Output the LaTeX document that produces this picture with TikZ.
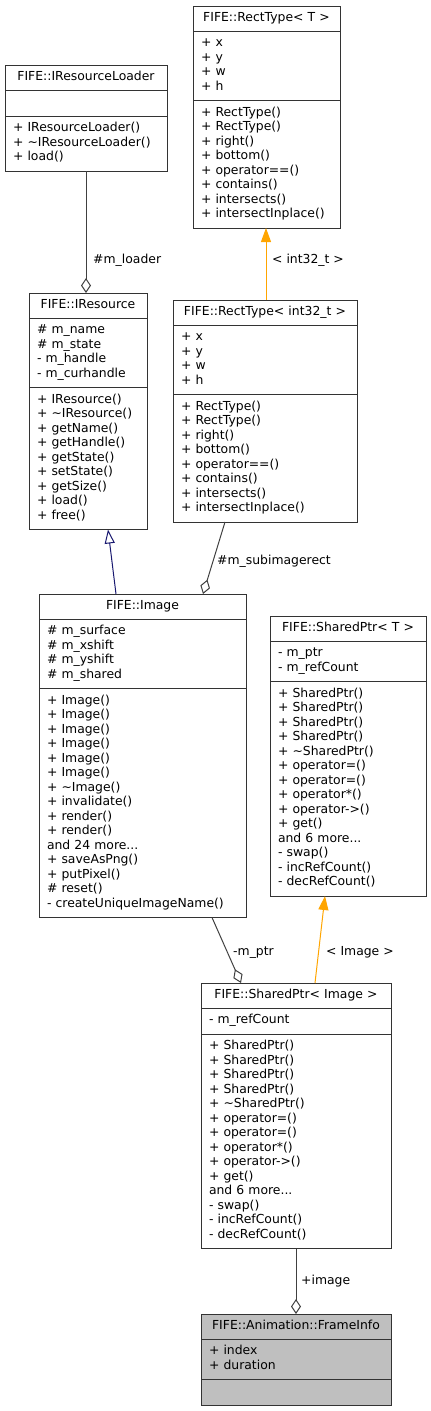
\documentclass[tikz,border=0pt]{standalone}
\usepackage{fontspec}
\setmainfont{DejaVu Sans}
\usetikzlibrary{arrows.meta,positioning}
\setlength{\parindent}{0pt}
\definecolor{edgegray}{HTML}{404040}
\definecolor{tplorange}{HTML}{FFA500}
\definecolor{inhnavy}{HTML}{191970}
\definecolor{focusgray}{HTML}{BFBFBF}
\newcommand{\umlfont}{\fontsize{12.4}{14.5}\selectfont}
% lines of one compartment, one row each
\newcommand{\rows}[1]{\begin{tabular}{@{}l@{}}#1\end{tabular}}
\tikzset{
    % one compartment of a class box
    part/.style={
        draw=black!80, line width=1pt, outer sep=0pt,
        inner xsep=8pt, inner ysep=5.75pt, font=\umlfont
    },
    hd/.style={part, align=center, text width=#1, inner ysep=5.25pt},
    mb/.style={part, align=left, text width=#1},
    focus/.style={fill=focusgray},
    % relations
    aggr/.style={draw=edgegray, line width=1pt,
        -{Diamond[fill=white, length=15pt, width=10pt]}},
    inherit/.style={draw=inhnavy, line width=1pt,
        -{Triangle[fill=white, length=14pt, width=10pt]}},
    tmpl/.style={draw=tplorange, line width=1pt,
        -{Triangle[length=14pt, width=10pt]}},
    edgelbl/.style={font=\umlfont, anchor=base west, inner sep=0pt},
}

\begin{document}
\begin{tikzpicture}[x=1pt,y=-1pt]
  \useasboundingbox (0,0) rectangle (431,1411);

  % FIFE::RectType< T >
  \node[hd=131pt, anchor=north west] (rectT) at (193,6) {\rows{FIFE::RectType< T >}};
  \node[mb=131pt, below=0pt of rectT] (rectTa) {\rows{+ x\\+ y\\+ w\\+ h}};
  \node[mb=131pt, below=0pt of rectTa] (rectTm) {\rows{+ RectType()\\+ RectType()\\+ right()\\+ bottom()\\
      + operator==()\\+ contains()\\+ intersects()\\+ intersectInplace()}};

  % FIFE::IResourceLoader
  \node[hd=146pt, anchor=north west] (loaderT) at (5,65) {\rows{FIFE::IResourceLoader}};
  \node[mb=146pt, below=0pt of loaderT] (loaderA) {\rows{\strut}};
  \node[mb=146pt, below=0pt of loaderA] (loaderM) {\rows{+ IResourceLoader()\\
      + \textasciitilde{}IResourceLoader()\\+ load()}};

  % FIFE::IResource
  \node[hd=102pt, anchor=north west] (resT) at (29,293) {\rows{FIFE::IResource}};
  \node[mb=102pt, below=0pt of resT] (resA) {\rows{\# m\_name\\\# m\_state\\- m\_handle\\- m\_curhandle}};
  \node[mb=102pt, below=0pt of resA] (resM) {\rows{+ IResource()\\+ \textasciitilde{}IResource()\\
      + getName()\\+ getHandle()\\+ getState()\\+ setState()\\+ getSize()\\+ load()\\+ free()}};

  % FIFE::RectType< int32_t >
  \node[hd=168pt, anchor=north west] (rect32T) at (173,300) {\rows{FIFE::RectType< int32\_t >}};
  \node[mb=168pt, below=0pt of rect32T] (rect32A) {\rows{+ x\\+ y\\+ w\\+ h}};
  \node[mb=168pt, below=0pt of rect32A] (rect32M) {\rows{+ RectType()\\+ RectType()\\+ right()\\+ bottom()\\
      + operator==()\\+ contains()\\+ intersects()\\+ intersectInplace()}};

  % FIFE::Image
  \node[hd=191pt, anchor=north west] (imgT) at (39,594) {\rows{FIFE::Image}};
  \node[mb=191pt, below=0pt of imgT] (imgA) {\rows{\# m\_surface\\\# m\_xshift\\\# m\_yshift\\\# m\_shared}};
  \node[mb=191pt, below=0pt of imgA] (imgM) {\rows{+ Image()\\+ Image()\\+ Image()\\+ Image()\\+ Image()\\
      + Image()\\+ \textasciitilde{}Image()\\+ invalidate()\\+ render()\\+ render()\\and 24 more...\\
      + saveAsPng()\\+ putPixel()\\\# reset()\\- createUniqueImageName()}};

  % FIFE::SharedPtr< T >
  \node[hd=140pt, anchor=north west] (sptrT) at (270,616) {\rows{FIFE::SharedPtr< T >}};
  \node[mb=140pt, below=0pt of sptrT] (sptrA) {\rows{- m\_ptr\\- m\_refCount}};
  \node[mb=140pt, below=0pt of sptrA] (sptrM) {\rows{+ SharedPtr()\\+ SharedPtr()\\+ SharedPtr()\\
      + SharedPtr()\\+ \textasciitilde{}SharedPtr()\\+ operator=()\\+ operator=()\\+ operator*()\\
      + operator->()\\+ get()\\and 6 more...\\- swap()\\- incRefCount()\\- decRefCount()}};

  % FIFE::SharedPtr< Image >
  \node[hd=174pt, anchor=north west] (sptrImgT) at (201,983) {\rows{FIFE::SharedPtr< Image >}};
  \node[mb=174pt, below=0pt of sptrImgT] (sptrImgA) {\rows{- m\_refCount}};
  \node[mb=174pt, below=0pt of sptrImgA] (sptrImgM) {\rows{+ SharedPtr()\\+ SharedPtr()\\+ SharedPtr()\\
      + SharedPtr()\\+ \textasciitilde{}SharedPtr()\\+ operator=()\\+ operator=()\\+ operator*()\\
      + operator->()\\+ get()\\and 6 more...\\- swap()\\- incRefCount()\\- decRefCount()}};

  % FIFE::Animation::FrameInfo
  \node[hd=174pt, focus, anchor=north west] (frameT) at (201,1314) {\rows{FIFE::Animation::FrameInfo}};
  \node[mb=174pt, focus, below=0pt of frameT] (frameA) {\rows{+ index\\+ duration}};
  \node[mb=174pt, focus, below=0pt of frameA] (frameM) {\rows{\strut}};

  % relations
  \draw[aggr] (loaderM.south) -- (loaderM.south |- resT.north);
  \draw[tmpl] ([xshift=93pt]rect32T.north west) -- ([xshift=73pt]rectTm.south west);
  \draw[inherit] ([xshift=77pt]imgT.north west) -- ([xshift=79pt]resM.south west);
  \draw[aggr] ([xshift=52pt]rect32M.south west) -- ([xshift=164pt]imgT.north west);
  \draw[aggr] ([xshift=173pt]imgM.south west) -- ([xshift=40pt]sptrImgT.north west);
  \draw[tmpl] ([xshift=114pt]sptrImgT.north west) -- ([xshift=55pt]sptrM.south west);
  \draw[aggr] ([xshift=95pt]sptrImgM.south west) -- ([xshift=95pt]frameT.north west);

  \node[edgelbl] (lblLoader) at (93,263) {\#m\_loader};
  \node[edgelbl] (lblInt) at (272,263) {< int32\_t >};
  \node[edgelbl] (lblSub) at (217,564) {\#m\_subimagerect};
  \node[edgelbl] (lblPtr) at (233,955) {-m\_ptr};
  \node[edgelbl] (lblImage) at (326,955) {< Image >};
  \node[edgelbl] (lblFrame) at (301,1284) {+image};
\end{tikzpicture}
\end{document}
